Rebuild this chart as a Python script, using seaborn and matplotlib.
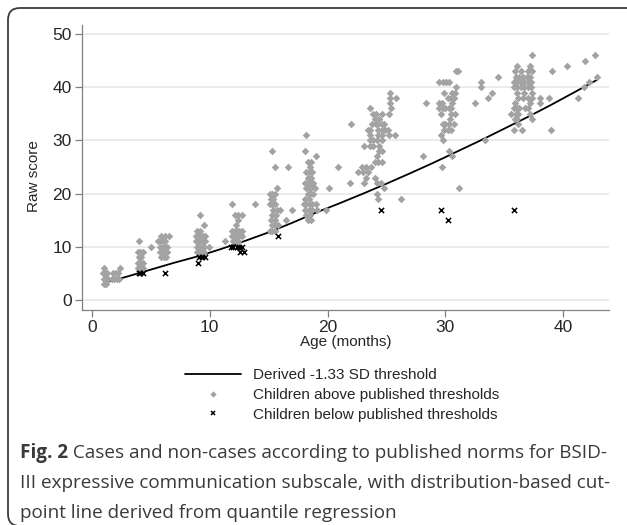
import matplotlib
matplotlib.use("Agg")
import matplotlib.pyplot as plt
import seaborn as sns
import pandas as pd
from matplotlib.lines import Line2D
from matplotlib.patches import FancyBboxPatch
from matplotlib.transforms import IdentityTransform

# ---------------- data ----------------
# rows of (score, [ages]) for children above published thresholds, by age cluster
grp_1m = [(6, [1.0]), (5, [0.9, 1.1, 1.3]), (4, [1.0, 1.2, 1.4]), (3, [1.0, 1.2])]
grp_2m = [(6, [2.4]), (5, [1.8, 2.0, 2.2]), (4, [1.7, 1.9, 2.1, 2.3])]
grp_4m = [(11, [4.0]), (9, [3.9, 4.1, 4.3]), (8, [4.0, 4.2]), (7, [3.9, 4.1, 4.3]),
          (6, [3.9, 4.1, 4.3]), (5, [4.2]), (10, [5.0])]
grp_6m = [(12, [5.9, 6.2, 6.5]), (11, [5.6, 5.8, 6.0, 6.2]), (10, [5.8, 6.0, 6.2, 6.4]),
          (9, [5.8, 6.0, 6.2, 6.4]), (8, [5.9, 6.1, 6.3])]
grp_9m = [(16, [9.2]), (14, [9.5]), (13, [8.9, 9.2]), (12, [8.8, 9.0, 9.2, 9.4, 9.6]),
          (11, [8.8, 9.0, 9.2, 9.4, 9.6]), (10, [8.9, 9.1, 9.3, 9.5, 9.9]),
          (9, [8.9, 9.1, 9.3, 9.5])]
grp_12m = [(18, [11.9, 13.8]), (16, [12.1, 12.4, 12.7]), (15, [12.4]), (14, [12.2]),
           (13, [11.9, 12.1, 12.3, 12.5, 12.7]), (12, [11.9, 12.1, 12.3, 12.5, 12.7]),
           (11, [11.3, 12.0, 12.2, 12.4])]
grp_15m = [(28, [15.3]), (25, [15.5, 16.6]), (21, [15.7]), (20, [15.1, 15.3, 15.5]),
           (19, [15.2, 15.4]), (18, [15.1, 15.3, 15.5]), (17, [15.4, 15.7, 16.0, 17.0]),
           (16, [15.3, 15.6]), (15, [15.2, 15.5, 16.5]), (14, [15.3, 15.5, 15.8]),
           (13, [15.1, 15.3, 15.5])]
grp_18m = [(31, [18.2]), (28, [18.1]), (27, [19.0]), (26, [18.3, 18.6]), (25, [18.5]),
           (24, [18.2, 18.4, 18.7]), (23, [18.3, 18.6]), (22, [18.1, 18.3, 18.5, 18.8, 21.9]),
           (21, [18.2, 18.4, 18.6, 18.9, 20.1]), (20, [18.3, 18.5, 18.8]), (19, [18.1, 18.4]),
           (18, [18.0, 18.2, 18.5, 18.7, 19.0]), (17, [18.1, 18.4, 18.7, 19.1, 19.9]),
           (16, [18.2, 18.5]), (15, [18.3, 18.6])]
grp_24m = [(39, [25.3]), (38, [25.3, 25.8]), (37, [25.3]), (36, [23.6, 25.4]),
           (35, [23.9, 24.1, 24.6, 25.2]), (34, [24.0, 24.4]), (33, [22.0, 23.8, 24.1, 24.3, 24.6, 24.8]),
           (32, [23.4, 23.6, 24.3, 24.6, 24.9, 25.1]), (31, [23.6, 24.3, 24.6, 25.2, 25.7]),
           (30, [23.6, 23.9, 24.2, 24.6]), (29, [23.1, 23.6, 23.9, 24.4]), (28, [24.4, 24.6]),
           (27, [24.2]), (26, [24.0, 24.3, 24.6]), (25, [20.9, 22.9, 23.3, 23.7]),
           (24, [22.6, 23.0, 23.4]), (23, [23.3, 24.0]), (22, [23.1, 24.2, 24.5]),
           (21, [24.8]), (20, [24.2]), (19, [24.3, 26.2])]
grp_30m = [(43, [30.9, 31.1]), (41, [29.5, 29.8, 30.1, 30.3, 33.0]), (40, [30.9, 33.0]),
           (39, [29.9, 30.6, 30.8, 34.0]), (38, [30.2, 30.5, 30.7, 33.6]),
           (37, [28.4, 29.5, 29.7, 30.6, 32.5]), (36, [29.5, 29.8, 30.0, 30.3, 30.5]),
           (35, [29.6, 30.5, 30.8]), (34, [30.4]), (33, [29.8, 30.0, 30.3, 30.7]),
           (32, [29.9, 30.2, 30.5]), (31, [29.6]), (30, [29.8, 33.4]), (28, [30.3]),
           (27, [28.1, 30.6]), (25, [29.7]), (21, [31.2]), (42, [34.5])]
grp_36m = [(46, [37.4, 42.7]), (45, [41.9]), (44, [36.1, 37.2, 40.3]),
           (43, [35.9, 36.4, 37.0, 37.4, 39.1]), (42, [36.0, 36.3, 36.6, 36.9, 37.2, 42.9]),
           (41, [35.8, 36.1, 36.4, 36.7, 37.0, 37.3, 42.2]),
           (40, [35.8, 36.1, 36.4, 36.7, 37.0, 37.3, 41.8]), (39, [36.1, 36.7, 37.4]),
           (38, [36.2, 36.6, 37.0, 37.4, 38.0, 38.8, 41.3]), (37, [35.9, 37.2, 38.0]),
           (36, [35.8, 36.1, 36.3, 36.8, 37.0]), (35, [35.6, 36.0, 36.2, 37.2]),
           (34, [35.9, 36.1, 37.4]), (33, [36.2]), (32, [35.8, 36.5, 39.0])]

# children below published thresholds
below_age = [4.0, 4.1, 4.3, 6.2, 9.0, 9.1, 9.3, 9.6, 11.8, 12.0, 12.3, 12.5, 12.7,
             12.6, 12.9, 15.8, 24.5, 29.6, 30.2, 35.8]
below_score = [5, 5, 5, 5, 7, 8, 8, 8, 10, 10, 10, 10, 10, 9, 9, 12, 17, 17, 15, 17]

# derived -1.33 SD threshold line
thr_age = [1.2, 3, 5, 7, 9, 11, 13, 15, 17, 19, 21, 23, 25, 27, 29, 31, 33, 35, 37, 39, 41, 42.9]
thr_score = [3.3, 4.4, 5.7, 7.0, 8.2, 9.6, 11.1, 12.7, 14.5, 16.4, 18.15, 19.97, 21.85,
             23.8, 25.8, 27.9, 30.0, 32.2, 34.4, 36.7, 39.1, 41.4]

x_ticks = [0, 10, 20, 30, 40]
y_ticks = [0, 10, 20, 30, 40, 50]
legend_labels = ["Derived -1.33 SD threshold", "Children above published thresholds",
                 "Children below published thresholds"]
caption_bold = "Fig. 2"
caption_lines = [" Cases and non-cases according to published norms for BSID-",
                 "III expressive communication subscale, with distribution-based cut-",
                 "point line derived from quantile regression"]

# ---------------- build tables ----------------
rows = []
for grp in [grp_1m, grp_2m, grp_4m, grp_6m, grp_9m, grp_12m, grp_15m, grp_18m,
            grp_24m, grp_30m, grp_36m]:
    for sc, ages in grp:
        for a in ages:
            rows.append((a, sc))
df_above = pd.DataFrame(rows, columns=["age", "score"])
df_below = pd.DataFrame({"age": below_age, "score": below_score})
df_thr = pd.DataFrame({"age": thr_age, "score": thr_score})

# ---------------- plot ----------------
sns.set_theme(style="white")
plt.rcParams["font.family"] = ["Liberation Sans", "DejaVu Sans"]

W, H = 627, 525
fig = plt.figure(figsize=(W / 100, H / 100), dpi=100)
ax = fig.add_axes([82 / W, 1 - 310 / H, 527 / W, 285 / H])

grey = "#a3a3a3"
sns.lineplot(data=df_thr, x="age", y="score", color="black", lw=1.3, ax=ax, legend=False)
sns.scatterplot(data=df_above, x="age", y="score", marker="D", color=grey, s=15,
                linewidth=0, ax=ax, legend=False, zorder=3)
sns.scatterplot(data=df_below, x="age", y="score", marker="x", color="black", s=14,
                linewidth=1.1, ax=ax, legend=False, zorder=4)

ax.set_xlim(-0.85, 43.9)
ax.set_ylim(-1.9, 51.7)
ax.set_xticks(x_ticks)
ax.set_yticks(y_ticks)
ax.set_xlabel("Age (months)", fontsize=11, labelpad=0)
ax.set_ylabel("Raw score", fontsize=11)
ax.yaxis.set_label_coords((41 - 82) / 527, 1 - (176 - 25) / 285)
ax.tick_params(axis="both", which="major", labelsize=12.5, length=5, width=0.9,
               color="#808080", direction="out", bottom=True, left=True, pad=2.5)
for s in ["top", "right"]:
    ax.spines[s].set_visible(False)
for s in ["left", "bottom"]:
    ax.spines[s].set_color("#808080")
    ax.spines[s].set_linewidth(0.9)
ax.yaxis.grid(True, color="#e6e6e6", lw=1.1)
ax.xaxis.grid(False)
ax.set_axisbelow(True)

handles = [Line2D([], [], color="black", lw=1.3),
           Line2D([], [], marker="D", ls="", color=grey, markersize=3.2, markeredgewidth=0),
           Line2D([], [], marker="x", ls="", color="black", markersize=3.5, markeredgewidth=1.1)]
fig.legend(handles, legend_labels, loc="center", bbox_to_anchor=(342 / W, 1 - 395 / H),
           frameon=False, fontsize=11, handlelength=3.7, handletextpad=0.8,
           labelspacing=0.38, borderpad=0)

# rounded frame
frame = FancyBboxPatch((8, -1), 640, H - 8 + 1, boxstyle="round,pad=0,rounding_size=12",
                       transform=IdentityTransform(), fc="none", ec="#3c3c3c", lw=1.3)
fig.patches.append(frame)

# caption
cap_color = "#3a3a3a"
cap_font = ["Open Sans", "DejaVu Sans"]
fs = 15
renderer = fig.canvas.get_renderer()
t_bold = fig.text(20 / W, 1 - 458 / H, caption_bold, fontsize=fs, fontweight="bold",
                  family=cap_font, color=cap_color, va="baseline", ha="left")
bb = t_bold.get_window_extent(renderer)
t1 = fig.text(bb.x1 / W, 1 - 458 / H, caption_lines[0], fontsize=fs, family=cap_font,
              color=cap_color, va="baseline", ha="left")
t2 = fig.text(20 / W, 1 - 488 / H, caption_lines[1], fontsize=fs, family=cap_font,
              color=cap_color, va="baseline", ha="left")
t3 = fig.text(20 / W, 1 - 518 / H, caption_lines[2], fontsize=fs, family=cap_font,
              color=cap_color, va="baseline", ha="left")
# fit first caption line to its width in the reference
end = t1.get_window_extent(renderer).x1
scale = (606 - 20) / (end - 20)
fs2 = fs * scale
for t in [t_bold, t1, t2, t3]:
    t.set_fontsize(fs2)
bb = t_bold.get_window_extent(renderer)
t1.set_x(bb.x1 / W)

fig.savefig("out.png", dpi=100)
